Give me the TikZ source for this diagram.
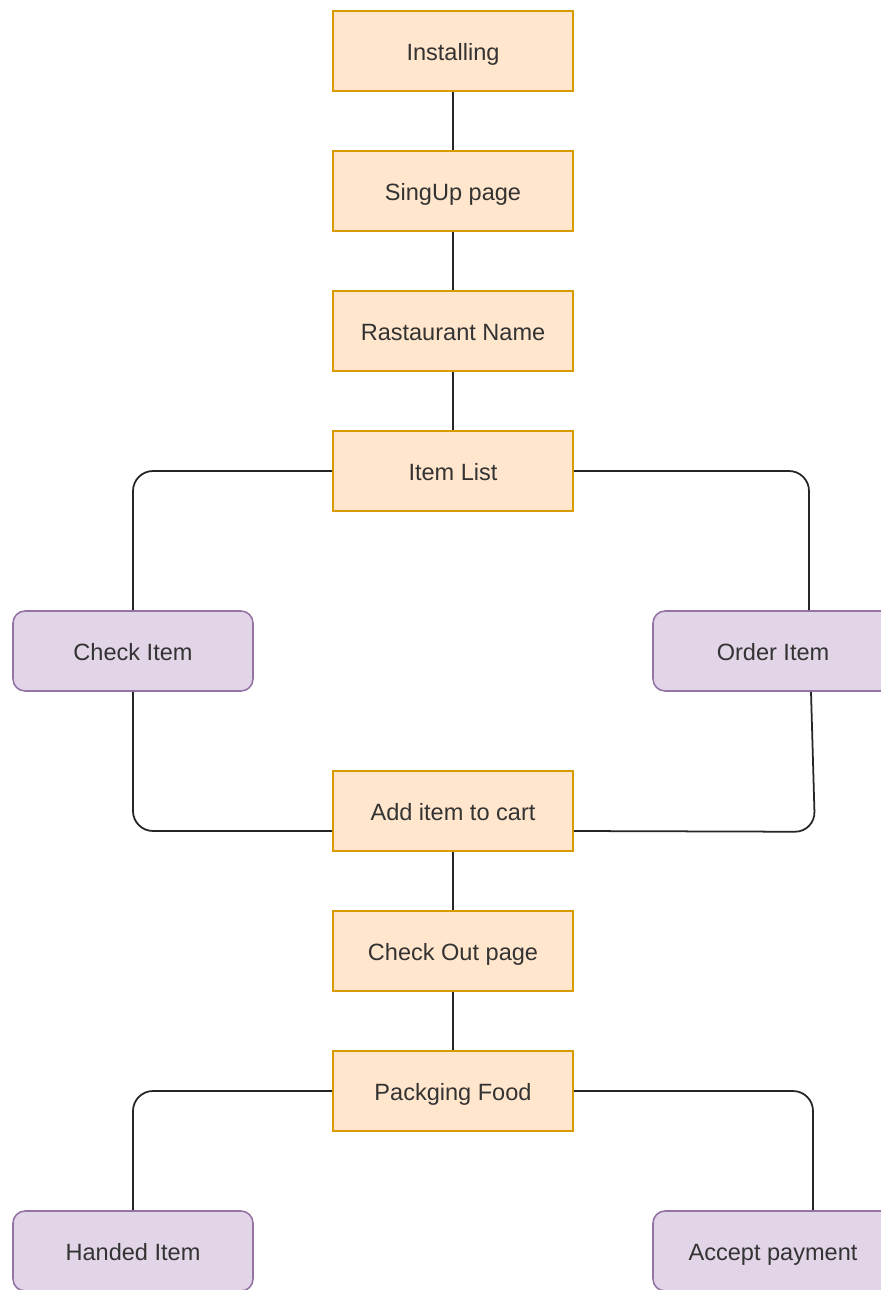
\documentclass[tikz,border=0pt]{standalone}
\usepackage{fontspec}
\setmainfont{Liberation Sans}
\usetikzlibrary{calc}
\definecolor{stepfill}{HTML}{FFE6CC}
\definecolor{stepline}{HTML}{D79B00}
\definecolor{actfill}{HTML}{E1D5E7}
\definecolor{actline}{HTML}{9673A6}
\definecolor{txt}{HTML}{333333}
\tikzset{
  stepbox/.style={draw=stepline, fill=stepfill, line width=0.9pt,
    minimum width=4.8cm, minimum height=1.6cm, inner sep=0pt,
    text height=12pt, text depth=1.2pt,
    text=txt, font=\fontsize{13.4}{16}\selectfont},
  actbox/.style={stepbox, draw=actline, fill=actfill, rounded corners=0.24cm},
  link/.style={draw=black!85, line width=1pt, rounded corners=0.4cm}
}
\begin{document}
\begin{tikzpicture}[x=0.02cm,y=-0.02cm]
\useasboundingbox (0,0) rectangle (881,1290);
\clip (0,0) rectangle (881,1290);
\fill[white] (0,0) rectangle (881,1290);

% main column
\node[stepbox] (install) at (453,51)  {Installing};
\node[stepbox] (signup)  at (453,191) {SingUp page};
\node[stepbox] (rest)    at (453,331) {Rastaurant Name};
\node[stepbox] (items)   at (453,471) {Item List};
\node[stepbox] (cart)    at (453,811) {Add item to cart};
\node[stepbox] (checkout) at (453,951) {Check Out page};
\node[stepbox] (pack)    at (453,1091) {Packging Food};

% side actions
\node[actbox] (check)  at (133,651)  {Check Item};
\node[actbox] (order)  at (773,651)  {Order Item};
\node[actbox] (handed) at (133,1251) {Handed Item};
\node[actbox] (accept) at (773,1251) {Accept payment};

% straight links
\draw[link] (install) -- (signup);
\draw[link] (signup) -- (rest);
\draw[link] (rest) -- (items);
\draw[link] (cart) -- (checkout);
\draw[link] (checkout) -- (pack);

% branches off the item list
\draw[link] (items.west) -| (check.north);
\draw[link] (items.east) -| ($(order.north)+(36,0)$);
\draw[link] (check.south) |- ($(cart.west)+(0,20)$);
\draw[link] ($(order.south)+(38,0)$) -- ($(order.south)+(42,140)$) -- ($(cart.east)+(0,20)$);

% branches off the packing step
\draw[link] (pack.west) -| (handed.north);
\draw[link] (pack.east) -| ($(accept.north)+(40,0)$);
\end{tikzpicture}
\end{document}
